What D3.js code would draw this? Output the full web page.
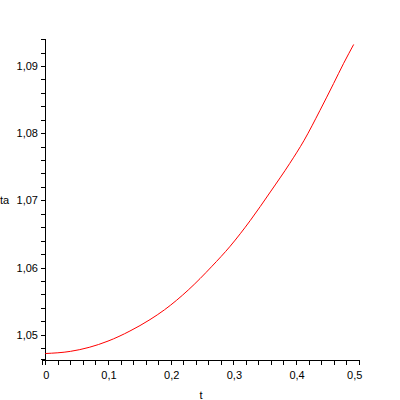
<!DOCTYPE html>
<html>
<head>
<meta charset="utf-8">
<script src="https://cdn.jsdelivr.net/npm/d3@7"></script>
<style>
  body { margin: 0; background: #fff; }
  text { font-family: "Liberation Sans", Arial, sans-serif; font-size: 11px; fill: #000; }
</style>
</head>
<body>
<div id="chart"></div>
<script>
const WIDTH = 400;
const HEIGHT = 400;

// curve
const tValues = [0, 0.04, 0.07, 0.1, 0.135, 0.167, 0.19, 0.228, 0.266, 0.295, 0.327, 0.359, 0.39, 0.413, 0.438, 0.46, 0.476, 0.492];
const taValues = [1.0472, 1.04752, 1.04812, 1.04905, 1.05055, 1.05225, 1.0537, 1.05665, 1.0602, 1.06318, 1.067, 1.07125, 1.0755, 1.07895, 1.08335, 1.0874, 1.0904, 1.0932];

const xTicks = [0, 0.1, 0.2, 0.3, 0.4, 0.5];
const xTickLabels = ["0", "0,1", "0,2", "0,3", "0,4", "0,5"];
const yTicks = [1.05, 1.06, 1.07, 1.08, 1.09];
const yTickLabels = ["1,05", "1,06", "1,07", "1,08", "1,09"];

const svg = d3.select("#chart")
  .append("svg")
  .attr("width", WIDTH)
  .attr("height", HEIGHT);

const x = d3.scaleLinear().domain([-0.005, 0.5]).range([42.2, 358.7]);
const y = d3.scaleLinear().domain([1.04634, 1.09397]).range([359.3, 39.3]);

// minor ticks every 0.02 / 0.002
const xMinor = d3.range(0, 0.5001, 0.02);
const yMinor = d3.range(1.046, 1.0941, 0.002).filter(v => v >= 1.04634);

svg.append("g")
  .attr("transform", "translate(0,359.5)")
  .call(d3.axisBottom(x).tickValues(xMinor).tickSize(5).tickFormat(""));
svg.append("g")
  .attr("transform", "translate(44.5,0)")
  .call(d3.axisLeft(y).tickValues(yMinor).tickSize(4).tickFormat(""));

svg.selectAll(".domain, .tick line")
  .attr("stroke", "#000")
  .attr("shape-rendering", "crispEdges");

svg.append("g")
  .selectAll("text")
  .data(xTicks)
  .enter()
  .append("text")
  .attr("x", (d, i) => x(d) + (i === xTicks.length - 1 ? -4 : 1))
  .attr("y", 378.5)
  .attr("text-anchor", "middle")
  .text((d, i) => xTickLabels[i]);

svg.append("g")
  .selectAll("text")
  .data(yTicks)
  .enter()
  .append("text")
  .attr("x", 38)
  .attr("y", d => y(d) + 4)
  .attr("text-anchor", "end")
  .text((d, i) => yTickLabels[i]);

svg.append("text")
  .attr("x", 201)
  .attr("y", 399)
  .attr("text-anchor", "middle")
  .text("t");

svg.append("text")
  .attr("x", 0)
  .attr("y", y(1.07) + 4)
  .text("ta");

const line = d3.line()
  .x((d, i) => x(tValues[i]))
  .y(d => y(d))
  .curve(d3.curveMonotoneX);

svg.append("path")
  .datum(taValues)
  .attr("d", line)
  .attr("fill", "none")
  .attr("stroke", "#ff0000")
  .attr("stroke-width", 1);
</script>
</body>
</html>
